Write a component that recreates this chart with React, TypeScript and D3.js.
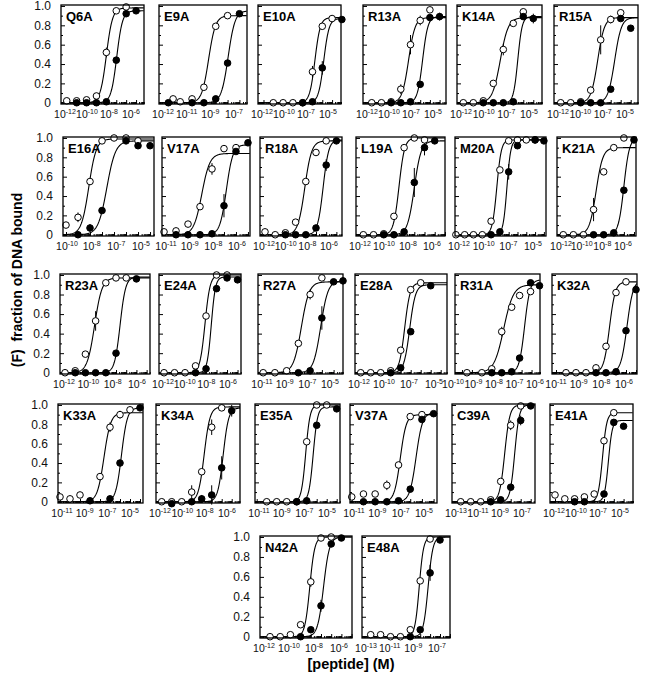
import React, { useEffect, useRef } from "react";
import * as d3 from "d3";

// panel titles, left to right, top to bottom
const names = [
  "Q6A", "E9A", "E10A", "R13A", "K14A", "R15A",
  "E16A", "V17A", "R18A", "L19A", "M20A", "K21A",
  "R23A", "E24A", "R27A", "E28A", "R31A", "K32A",
  "K33A", "K34A", "E35A", "V37A", "C39A", "E41A",
  "N42A", "E48A",
];

// log10 [peptide] extent of each x axis
const xExtents = [
  [-12.58, -4.2], [-12.79, -5.36], [-13.56, -5.09], [-12.9, -4.34], [-12.63, -4.13], [-12.67, -4.27],
  [-12.25, -4.67], [-12.17, -4.83], [-12.49, -4.45], [-12.72, -3.99], [-13.1, -2.76], [-12.62, -4.8],
  [-12.49, -3.67], [-13.48, -5.67], [-12.44, -5.2], [-12.57, -3.37], [-12.7, -4.15], [-13.4, -4.9],
  [-12.2, -3.7], [-12.57, -4.17], [-13.17, -4.67], [-12.15, -4.71], [-13.87, -5.57], [-12.51, -4.04],
  [-12.98, -3.96], [-13.88, -4.99],
];

// exponents printed under each panel
const tickExps = [
  [-12, -10, -8, -6], [-12, -11, -9, -7], [-12, -10, -7, -5], [-12, -10, -7, -5], [-12, -10, -7, -5], [-12, -10, -7, -5],
  [-10, -8, -7, -5], [-11, -9, -8, -6], [-12, -10, -8, -6], [-12, -10, -8, -6], [-12, -10, -7, -5], [-12, -10, -8, -6],
  [-12, -10, -8, -6], [-12, -10, -8, -6], [-11, -9, -7, -5], [-12, -10, -7, -5], [-10, -9, -8, -7, -6], [-11, -9, -8, -6],
  [-11, -9, -7, -5], [-12, -10, -8, -6], [-11, -9, -7, -5], [-11, -9, -7, -5], [-13, -11, -9, -7], [-12, -10, -7, -5],
  [-12, -10, -8, -6], [-13, -11, -9, -7],
];

// open circles: [log10 conc, fraction bound, error]
const openPts = [
  [[-12, 0.02], [-11, 0.02], [-10, 0.03], [-9, 0.07], [-8, 0.52, 0.05], [-7, 0.95], [-6, 0.99]],
  [[-11.6, 0.04], [-11, 0.01], [-10, 0.04], [-9, 0.16], [-8, 0.79], [-7, 0.9]],
  [[-12, 0], [-11, 0], [-10, 0], [-9, 0], [-8, 0.32, 0.06], [-7, 0.79], [-6, 0.87]],
  [[-12, 0], [-11, 0], [-10, 0.01], [-9, 0.14, 0.05], [-8, 0.6, 0.1], [-7, 0.85, 0.05], [-6, 0.96]],
  [[-12, 0], [-11, 0], [-10, 0.02], [-9, 0.2], [-8, 0.55, 0.06], [-7, 0.82], [-6, 0.94]],
  [[-12, 0], [-11, 0], [-10, 0.01], [-9, 0.13, 0.04], [-8, 0.65, 0.15], [-7, 0.86, 0.04], [-6, 0.93]],
  [[-12, 0.1], [-11, 0.18, 0.05], [-10, 0.55], [-9, 0.97], [-8, 1.0], [-7, 1.0], [-6, 0.97]],
  [[-12, 0.03], [-11, 0.04], [-10, 0.11], [-9, 0.29], [-8, 0.68, 0.06], [-7, 0.89], [-6, 0.9]],
  [[-12, 0.03], [-11, 0], [-10, 0.02], [-9, 0.13], [-8, 0.55], [-7, 0.85], [-6, 0.97]],
  [[-12, 0], [-11, 0], [-10, 0.01], [-9, 0.19], [-8, 0.9], [-7, 1.0], [-6, 0.98]],
  [[-13, 0], [-12, 0], [-11, 0], [-10, 0], [-9, 0.14], [-8, 0.67], [-7, 0.97], [-6, 0.98], [-5, 0.98], [-4, 0.98]],
  [[-12, 0], [-11, 0], [-10, 0], [-9, 0.26, 0.12], [-8, 0.65], [-7, 0.9], [-6, 1.0]],
  [[-12, 0], [-11, 0.02], [-10, 0.19], [-9, 0.53, 0.1], [-8, 0.92], [-7, 0.97], [-6, 0.97]],
  [[-13, 0], [-12, 0], [-11, 0], [-10, 0.07], [-9, 0.58], [-8, 1.0], [-7, 1.0]],
  [[-12, 0], [-11, 0], [-10, 0.02], [-9, 0.3], [-8, 0.8, 0.05], [-7, 0.97]],
  [[-12, 0], [-11, 0], [-10, 0], [-9, 0.02], [-8, 0.23], [-7, 0.85], [-6, 0.92]],
  [[-11.5, 0], [-10, 0], [-9, 0.04], [-8, 0.42, 0.05], [-7, 0.67], [-6.2, 0.79], [-5.1, 0.83]],
  [[-12, 0], [-11, 0], [-10, 0], [-9, 0.05], [-8, 0.27], [-7, 0.82], [-6, 0.93]],
  [[-12, 0.05], [-11, 0.03], [-10, 0.07], [-8, 0.26], [-7, 0.77, 0.05], [-6, 0.9, 0.04], [-5, 0.95]],
  [[-12, 0], [-11, 0], [-10, 0], [-9, 0.1, 0.07], [-8, 0.31], [-7, 0.77, 0.08], [-6, 0.97]],
  [[-12, 0], [-11, 0], [-10, 0], [-9, 0], [-8, 0.62], [-7, 1.0], [-6, 1.0]],
  [[-12, 0.05], [-11, 0.08], [-10, 0.08], [-9, 0.17, 0.05], [-8, 0.38], [-7, 0.88], [-6, 0.9]],
  [[-13, 0], [-12, 0], [-11, 0], [-10, 0.02], [-9, 0.21], [-8, 0.79, 0.05], [-7, 0.99]],
  [[-12, 0.07], [-11, 0.03], [-10, 0.03], [-9, 0.05], [-8, 0.08], [-7, 0.63], [-6, 0.92]],
  [[-12, 0], [-11, 0], [-10, 0.02], [-9, 0.12], [-8, 0.55, 0.05], [-7, 0.99], [-6, 1.0]],
  [[-13, 0.02], [-12, 0.02], [-11, 0], [-10, 0], [-9, 0.07], [-8, 0.56], [-7, 0.98]],
];

// filled circles: [log10 conc, fraction bound, error]
const filledPts = [
  [[-11, 0], [-10, 0], [-9, 0], [-8, 0.01], [-7, 0.44], [-6, 0.92], [-5, 0.95]],
  [[-12, 0], [-10, 0], [-9, 0], [-8, 0.04], [-7, 0.41], [-6, 0.92]],
  [[-9, 0], [-8, 0.01], [-7, 0.36, 0.07], [-5, 0.86]],
  [[-10, 0], [-9, 0], [-8, 0.01], [-7, 0.19], [-6, 0.88], [-5, 0.89, 0.04]],
  [[-10, 0], [-9, 0], [-8, 0], [-7, 0.01], [-6, 0.89], [-5, 0.87, 0.05]],
  [[-10, 0], [-9, 0], [-8, 0], [-7, 0.14], [-6, 0.87], [-5, 0.77]],
  [[-11, 0], [-10, 0.07, 0.04], [-9, 0.25], [-7, 0.97], [-6, 0.92], [-5, 0.92]],
  [[-11, 0], [-10, 0], [-9, 0], [-8, 0.01], [-7, 0.3, 0.12], [-6, 0.86], [-5, 0.95]],
  [[-10, 0], [-9, 0], [-8, 0], [-7, 0.07], [-6, 0.72, 0.06], [-5, 0.97]],
  [[-10, 0], [-9, 0], [-8, 0.03], [-7, 0.54, 0.15], [-6, 0.9, 0.08], [-5, 0.97]],
  [[-9, 0], [-8, 0.03], [-7, 0.65, 0.08], [-6, 0.92], [-4, 0.98], [-3, 0.97]],
  [[-9, 0], [-8, 0], [-7, 0.02], [-6, 0.46], [-5, 0.98]],
  [[-11, 0], [-10, 0], [-9, 0], [-8, 0], [-7, 0.2], [-5, 0.96]],
  [[-10, 0], [-9, 0.04], [-8, 0.86], [-7, 0.97], [-6, 0.95]],
  [[-9, 0], [-8, 0.02], [-7, 0.56, 0.12], [-6, 0.93], [-5.2, 0.94]],
  [[-9, 0], [-8, 0.05], [-7, 0.42], [-5, 0.89]],
  [[-9, 0], [-8, 0], [-7, 0.01], [-6.2, 0.15], [-5.1, 0.92], [-4.2, 0.89]],
  [[-9, 0], [-8, 0], [-7, 0.01], [-6, 0.43], [-5, 0.85]],
  [[-9, 0.01], [-7, 0.03], [-6, 0.4], [-4, 0.97]],
  [[-11, -0.02], [-9, 0], [-8, 0.03, 0.04], [-7, 0.07, 0.1], [-6, 0.35, 0.12], [-5, 0.94, 0.06]],
  [[-9, 0], [-8, 0.01], [-7, 0.79], [-5, 0.96]],
  [[-11, 0], [-10, 0], [-9, 0], [-8, 0.01], [-7, 0.13], [-6, 0.85], [-5, 0.91]],
  [[-10, 0], [-9, 0.02], [-8, 0.15], [-7, 0.84, 0.05], [-6, 0.99]],
  [[-10, 0], [-9, 0], [-7, 0.08], [-6, 0.82], [-5, 0.78]],
  [[-9, 0], [-8, 0.07], [-7, 0.31, 0.06], [-6, 0.93], [-5, 0.99]],
  [[-9, 0], [-8, 0.07], [-7, 0.64, 0.08], [-6, 0.97]],
];

// fitted curves: [log10 EC50, plateau, Hill slope]
const openFit = [
  [-8.0, 0.98, 1.4], [-8.6, 0.9, 1.5], [-7.75, 0.88, 1.6], [-8.2, 0.88, 1.3], [-8.3, 0.88, 1.1], [-8.3, 0.88, 1.3],
  [-10.1, 0.99, 1.4], [-8.85, 0.84, 1.3], [-8.1, 0.97, 1.3], [-8.5, 1.0, 1.6], [-8.35, 0.98, 1.7], [-8.75, 0.9, 1.3],
  [-9.1, 0.97, 1.2], [-9.1, 1.0, 1.8], [-8.75, 0.93, 1.3], [-7.6, 0.92, 1.6], [-7.8, 0.9, 0.9], [-7.65, 0.93, 1.5],
  [-7.6, 0.92, 1.3], [-7.75, 0.98, 1.5], [-8.1, 1.0, 2.0], [-7.85, 0.9, 1.7], [-8.6, 1.0, 1.7], [-7.15, 0.92, 2.0],
  [-8.1, 1.0, 1.8], [-8.1, 1.0, 2.0],
];
const filledFit = [
  [-6.95, 0.95, 1.5], [-6.95, 0.95, 1.5], [-6.85, 0.87, 1.6], [-6.75, 0.89, 1.6], [-6.55, 0.89, 2.0], [-6.6, 0.88, 1.3],
  [-8.6, 0.97, 1.2], [-6.8, 0.93, 1.6], [-6.3, 0.98, 1.6], [-7.0, 0.97, 1.3], [-7.2, 0.98, 2.0], [-6.0, 1.0, 1.6],
  [-6.6, 0.98, 1.6], [-8.5, 0.98, 2.2], [-7.1, 0.94, 1.4], [-7.1, 0.9, 1.5], [-5.7, 0.95, 1.6], [-5.9, 0.95, 1.4],
  [-5.85, 0.97, 1.5], [-5.85, 0.97, 1.6], [-7.35, 0.98, 2.0], [-6.5, 0.92, 1.6], [-7.6, 1.0, 1.9], [-6.55, 0.84, 2.2],
  [-6.75, 1.0, 1.5], [-7.2, 1.0, 1.8],
];

const yLabels = ["0", "0.2", "0.4", "0.6", "0.8", "1.0"];

// layout: row [top, bottom] and each panel's [left, right]
const rowY = [[5, 104], [137, 236], [274, 374], [404, 503], [536, 638]];
const boxX = [
  [[61, 144], [159, 247], [258, 341], [363, 446], [457, 542], [554, 638]],
  [[63, 154], [162, 250], [260, 342], [356, 445], [455, 546], [557, 636]],
  [[60, 150], [159, 241], [258, 343], [355, 447], [455, 540], [552, 637]],
  [[58, 143], [156, 240], [255, 340], [350, 437], [452, 535], [550, 633]],
  [[260, 352], [362, 450]],
];

const FONT = "'Liberation Sans', Arial, Helvetica, sans-serif";
const NARROW = "'Liberation Sans Narrow', 'Liberation Sans', Arial, sans-serif";

const hill = (x, [ec50, top, n]) => top / (1 + Math.pow(10, n * (ec50 - x)));

const App = () => {
  const ref = useRef(null);

  useEffect(() => {
    const svg = d3.select(ref.current);
    svg.selectAll("*").remove();

    let idx = 0;
    rowY.forEach(([y0, y1], r) => {
      boxX[r].forEach(([x0, x1], c) => {
        const i = idx++;
        const [lo, hi] = xExtents[i];
        const x = d3.scaleLinear().domain([lo, hi]).range([x0, x1]);
        const y = d3.scaleLinear().domain([-0.013, 1.01]).range([y1, y0]);
        const g = svg.append("g");
        const labeled = c === 0;

        // y ticks (inside)
        g.append("g")
          .attr("transform", `translate(${x0},0)`)
          .call(
            d3.axisLeft(y)
              .tickValues([0, 0.2, 0.4, 0.6, 0.8, 1.0])
              .tickSize(-4)
              .tickPadding(10)
              .tickFormat((d, k) => (labeled ? yLabels[k] : ""))
          )
          .call((a) => a.select(".domain").remove())
          .call((a) =>
            a.selectAll("text").attr("font-size", 12).attr("font-family", FONT).attr("fill", "#111")
          );
        g.append("g")
          .attr("transform", `translate(${x0},0)`)
          .call(d3.axisLeft(y).tickValues([0.1, 0.3, 0.5, 0.7, 0.9]).tickSize(-2).tickFormat(() => ""))
          .call((a) => a.select(".domain").remove());

        // x ticks: decades and log minors (inside)
        const decades = d3.range(Math.ceil(lo), Math.floor(hi) + 1);
        const minors = [];
        d3.range(Math.floor(lo), Math.ceil(hi)).forEach((d) =>
          d3.range(2, 10).forEach((k) => {
            const v = d + Math.log10(k);
            if (v > lo && v < hi) minors.push(v);
          })
        );
        g.append("g")
          .attr("transform", `translate(0,${y1})`)
          .call(d3.axisBottom(x).tickValues(decades).tickSize(-4).tickFormat(() => ""))
          .call((a) => a.select(".domain").remove());
        g.append("g")
          .attr("transform", `translate(0,${y1})`)
          .call(d3.axisBottom(x).tickValues(minors).tickSize(-2).tickFormat(() => ""))
          .call((a) => a.select(".domain").remove());

        // x labels as 10^n
        const ex = tickExps[i];
        const lab = d3
          .scalePoint()
          .domain(ex.map(String))
          .range(ex.length > 4 ? [x0 - 2, x1 - 5] : [x0 + 4, x1 - 13]);
        g.selectAll("text.xl")
          .data(ex)
          .join("text")
          .attr("class", "xl")
          .attr("x", (d) => lab(String(d)))
          .attr("y", y1 + 14)
          .attr("text-anchor", "middle")
          .attr("font-family", NARROW)
          .attr("font-size", 10.5)
          .attr("fill", "#111")
          .call((t) => {
            t.append("tspan").text("10");
            t.append("tspan").attr("dy", -4).attr("font-size", 7).text((d) => d);
          });

        // fitted curves
        const xs = d3.range(lo, hi + 0.001, 0.04);
        const line = (fit) =>
          d3.line()
            .x((v) => x(v))
            .y((v) => y(hill(v, fit)))(xs);
        [openFit[i], filledFit[i]].forEach((fit) =>
          g.append("path").attr("d", line(fit)).attr("fill", "none").attr("stroke", "#000").attr("stroke-width", 1.1)
        );

        // error bars
        const all = openPts[i].concat(filledPts[i]).filter((p) => p[2]);
        g.selectAll("line.err")
          .data(all)
          .join("line")
          .attr("x1", (d) => x(d[0]))
          .attr("x2", (d) => x(d[0]))
          .attr("y1", (d) => y(d[1] - d[2]))
          .attr("y2", (d) => y(d[1] + d[2]))
          .attr("stroke", "#000")
          .attr("stroke-width", 1);

        // points
        g.selectAll("circle.o")
          .data(openPts[i])
          .join("circle")
          .attr("cx", (d) => x(d[0]))
          .attr("cy", (d) => y(d[1]))
          .attr("r", 3.3)
          .attr("fill", "#fff")
          .attr("stroke", "#000")
          .attr("stroke-width", 1);
        g.selectAll("circle.f")
          .data(filledPts[i])
          .join("circle")
          .attr("cx", (d) => x(d[0]))
          .attr("cy", (d) => y(d[1]))
          .attr("r", 3.3)
          .attr("fill", "#000")
          .attr("stroke", "#000")
          .attr("stroke-width", 1);

        // frame and title
        g.append("rect")
          .attr("x", x0)
          .attr("y", y0)
          .attr("width", x1 - x0)
          .attr("height", y1 - y0)
          .attr("fill", "none")
          .attr("stroke", "#000")
          .attr("stroke-width", 1.3);
        g.append("text")
          .attr("x", x0 + 5)
          .attr("y", y0 + 16)
          .attr("font-family", FONT)
          .attr("font-weight", "bold")
          .attr("font-size", 13)
          .text(names[i]);
      });
    });

    // axis titles
    svg.append("text")
      .attr("transform", "translate(22,280) rotate(-90)")
      .attr("text-anchor", "middle")
      .attr("font-family", FONT)
      .attr("font-weight", "bold")
      .attr("font-size", 14)
      .attr("xml:space", "preserve")
      .text("(F)  fraction of DNA bound");
    svg.append("text")
      .attr("x", 351)
      .attr("y", 669)
      .attr("text-anchor", "middle")
      .attr("font-family", FONT)
      .attr("font-weight", "bold")
      .attr("font-size", 14.5)
      .text("[peptide] (M)");
  });

  return (
    <svg
      ref={ref}
      width={648}
      height={677}
      style={{ position: "absolute", left: 0, top: 0, background: "#fff" }}
    ></svg>
  );
};

export default App;
